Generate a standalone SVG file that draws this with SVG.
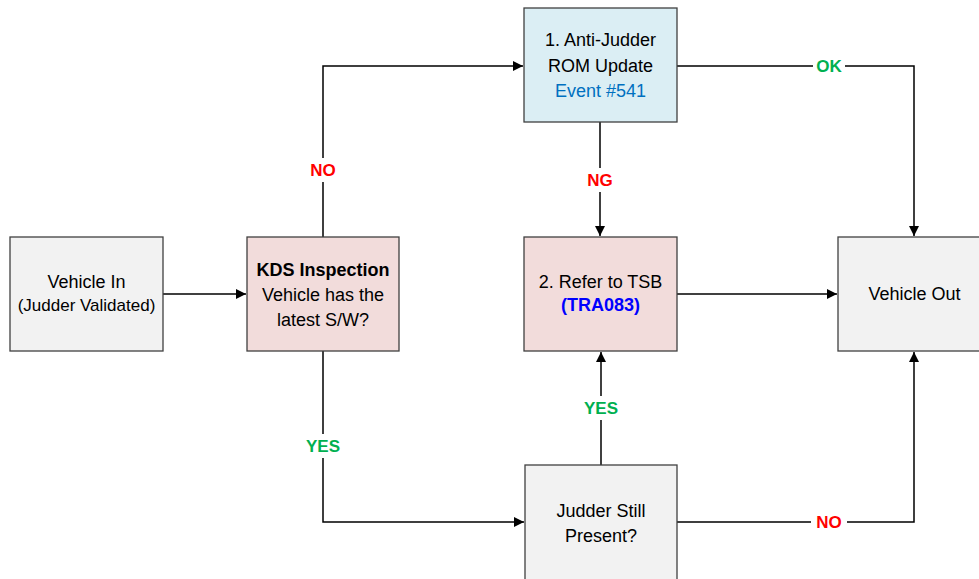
<svg xmlns="http://www.w3.org/2000/svg" width="979" height="579" viewBox="0 0 979 579">
<defs>
<marker id="arr" viewBox="0 0 10 10" refX="10" refY="5" markerWidth="10" markerHeight="10" markerUnits="userSpaceOnUse" orient="auto">
<path d="M0,0 L10,5 L0,10 z" fill="#000"/>
</marker>
<style>
.box{stroke:#404040;stroke-width:1.3}
.grey{fill:#f2f2f2}
.pink{fill:#f2dcdb}
.blue{fill:#dbeef4}
.t{font-family:"Liberation Sans",Arial,sans-serif;font-size:18px;fill:#000;text-anchor:middle}
.b{font-weight:bold}
.c{fill:none;stroke:#000;stroke-width:1.5;marker-end:url(#arr)}
.lbl{font-family:"Liberation Sans",Arial,sans-serif;font-size:17px;font-weight:bold;text-anchor:middle}
.red{fill:#ff0000}
.green{fill:#00b050}
.bg{fill:#fff}
</style>
</defs>
<rect width="979" height="579" fill="#fff"/>
<g id="connectors">
<path class="c" d="M163,294 H246"/>
<path class="c" d="M323,237 V66 H523"/>
<path class="c" d="M323,351 V522 H524"/>
<path class="c" d="M677,66 H914 V236"/>
<path class="c" d="M600,122 V236"/>
<path class="c" d="M677,294 H837"/>
<path class="c" d="M601,465 V352"/>
<path class="c" d="M677,522 H914 V352"/>
<rect class="bg" x="305" y="158" width="36" height="24"/>
<text class="lbl red" x="323" y="176">NO</text>
<rect class="bg" x="302" y="434" width="42" height="24"/>
<text class="lbl green" x="323" y="452">YES</text>
<rect class="bg" x="813" y="54" width="32" height="24"/>
<text class="lbl green" x="829" y="72">OK</text>
<rect class="bg" x="582" y="168" width="36" height="24"/>
<text class="lbl red" x="600" y="186">NG</text>
<rect class="bg" x="580" y="396" width="42" height="24"/>
<text class="lbl green" x="601" y="414">YES</text>
<rect class="bg" x="811" y="510" width="36" height="24"/>
<text class="lbl red" x="829" y="528">NO</text>
</g>
<g id="vehicle-in">
<rect class="box grey" x="10" y="237" width="153" height="114"/>
<text class="t" x="86.5" y="288">Vehicle In</text>
<text class="t" x="86.5" y="311" style="font-size:17px">(Judder Validated)</text>
</g>
<g id="kds-inspection">
<rect class="box pink" x="247" y="237" width="152" height="114"/>
<text class="t b" x="323" y="276">KDS Inspection</text>
<text class="t" x="323" y="301">Vehicle has the</text>
<text class="t" x="323" y="326">latest S/W?</text>
</g>
<g id="rom-update">
<rect class="box blue" x="524" y="8" width="153" height="114"/>
<text class="t" x="600.5" y="46">1. Anti-Judder</text>
<text class="t" x="600.5" y="72">ROM Update</text>
<text class="t" x="600.5" y="97" style="fill:#0070c0">Event #541</text>
</g>
<g id="refer-tsb">
<rect class="box pink" x="524" y="237" width="153" height="114"/>
<text class="t" x="600.5" y="288">2. Refer to TSB</text>
<text class="t b" x="600.5" y="311" style="fill:#0000ff">(TRA083)</text>
</g>
<g id="vehicle-out">
<rect class="box grey" x="838" y="237" width="153" height="114"/>
<text class="t" x="914.5" y="300">Vehicle Out</text>
</g>
<g id="judder-still">
<rect class="box grey" x="525" y="465" width="152" height="120"/>
<text class="t" x="601" y="517">Judder Still</text>
<text class="t" x="601" y="542">Present?</text>
</g>
</svg>
